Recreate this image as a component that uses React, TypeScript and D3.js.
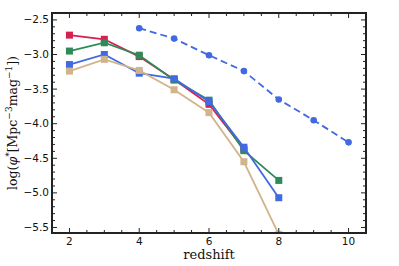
import React from 'react';
import * as d3 from 'd3';

// redshift samples
const zSolid = [2, 3, 4, 5, 6, 7, 8];
const zDashed = [4, 5, 6, 7, 8, 9, 10];

// log(phi*) values
const redVals = [-2.72, -2.78, -3.03, -3.36, -3.72, -4.37];
const greenVals = [-2.95, -2.83, -3.01, -3.37, -3.66, -4.39, -4.82];
const blueVals = [-3.145, -3.0, -3.27, -3.35, -3.68, -4.34, -5.07];
const tanVals = [-3.24, -3.07, -3.23, -3.51, -3.84, -4.55, -5.6];
const dashedVals = [-2.62, -2.77, -3.01, -3.24, -3.65, -3.95, -4.27];

const xTicks = [2, 4, 6, 8, 10];
const yTicks = [-2.5, -3.0, -3.5, -4.0, -4.5, -5.0, -5.5];

const solidSeries = [
  { name: 'red', color: '#d6204e', values: redVals },
  { name: 'green', color: '#2e8b57', values: greenVals },
  { name: 'blue', color: '#4169e1', values: blueVals },
  { name: 'tan', color: '#d2b48c', values: tanVals },
];

const W = 399;
const H = 266;
const margin = { left: 52, right: 33, top: 13, bottom: 33 };

export default function App() {
  const x = d3.scaleLinear().domain([1.5, 10.5]).range([margin.left, W - margin.right]);
  const y = d3.scaleLinear().domain([-5.58, -2.4]).range([H - margin.bottom, margin.top]);

  const line = d3.line<[number, number]>()
    .x(d => x(d[0]))
    .y(d => y(d[1]));

  const x0 = x.range()[0], x1 = x.range()[1];
  const y0 = y.range()[0], y1 = y.range()[1];

  const xMinor = d3.range(1.5, 10.51, 0.5).filter(v => !xTicks.includes(v));
  const yMinor = d3.range(-5.5, -2.39, 0.1)
    .map(v => Math.round(v * 10) / 10)
    .filter(v => !yTicks.some(t => Math.abs(t - v) < 1e-6) && v >= -5.58);

  const fmt = (v: number) => v.toFixed(1).replace('-', '\u2212');
  const ms = 7;

  return (
    <div style={{ position: 'absolute', left: 0, top: 0 }}>
      <svg width={W} height={H} style={{ display: 'block', background: '#fff' }}>
        <defs>
          <clipPath id="plotclip">
            <rect x={x0} y={y1} width={x1 - x0} height={y0 - y1} />
          </clipPath>
        </defs>

        <g clipPath="url(#plotclip)">
          {solidSeries.map(s => (
            <g key={s.name}>
              <path
                d={line(s.values.map((v, i) => [zSolid[i], v] as [number, number])) || ''}
                fill="none"
                stroke={s.color}
                strokeWidth={1.8}
              />
              {s.values.map((v, i) => (
                <rect
                  key={i}
                  x={x(zSolid[i]) - ms / 2}
                  y={y(v) - ms / 2}
                  width={ms}
                  height={ms}
                  fill={s.color}
                />
              ))}
            </g>
          ))}
          <path
            d={line(dashedVals.map((v, i) => [zDashed[i], v] as [number, number])) || ''}
            fill="none"
            stroke="#4169e1"
            strokeWidth={1.8}
            strokeDasharray="7,4"
          />
          {dashedVals.map((v, i) => (
            <circle key={i} cx={x(zDashed[i])} cy={y(v)} r={3.3} fill="#4169e1" />
          ))}
        </g>

        {/* ticks, inward on all sides */}
        <g stroke="#222" strokeWidth={1}>
          {xTicks.map(t => (
            <g key={'xt' + t}>
              <line x1={x(t)} x2={x(t)} y1={y0} y2={y0 - 5} />
              <line x1={x(t)} x2={x(t)} y1={y1} y2={y1 + 5} />
            </g>
          ))}
          {xMinor.map(t => (
            <g key={'xm' + t}>
              <line x1={x(t)} x2={x(t)} y1={y0} y2={y0 - 3} />
              <line x1={x(t)} x2={x(t)} y1={y1} y2={y1 + 3} />
            </g>
          ))}
          {yTicks.map(t => (
            <g key={'yt' + t}>
              <line x1={x0} x2={x0 + 5} y1={y(t)} y2={y(t)} />
              <line x1={x1} x2={x1 - 5} y1={y(t)} y2={y(t)} />
            </g>
          ))}
          {yMinor.map(t => (
            <g key={'ym' + t}>
              <line x1={x0} x2={x0 + 3} y1={y(t)} y2={y(t)} />
              <line x1={x1} x2={x1 - 3} y1={y(t)} y2={y(t)} />
            </g>
          ))}
        </g>

        <rect x={x0} y={y1} width={x1 - x0} height={y0 - y1} fill="none" stroke="#222" strokeWidth={2} />

        {/* tick labels */}
        <g fontFamily="DejaVu Sans, sans-serif" fontSize={10.5} fill="#111">
          {xTicks.map(t => (
            <text key={'xl' + t} x={x(t)} y={y0 + 12} textAnchor="middle">{t}</text>
          ))}
          {yTicks.map(t => (
            <text key={'yl' + t} x={x0 - 3} y={y(t) + 3.5} textAnchor="end">{fmt(t)}</text>
          ))}
        </g>

        <text x={(x0 + x1) / 2} y={259} textAnchor="middle" fontFamily="DejaVu Serif, serif" fontSize={13} fill="#111">
          redshift
        </text>
        <text
          transform={`translate(17, ${(y0 + y1) / 2}) rotate(-90)`}
          textAnchor="middle"
          fontFamily="DejaVu Serif, serif"
          fontSize={12.5}
          fill="#111"
        >
          log(<tspan fontStyle="italic">φ</tspan><tspan dy={-5} fontSize={9}>*</tspan>
          <tspan dy={5}>[Mpc</tspan><tspan dy={-5} fontSize={9}>−3</tspan>
          <tspan dy={5}>mag</tspan><tspan dy={-5} fontSize={9}>−1</tspan>
          <tspan dy={5}>])</tspan>
        </text>
      </svg>
    </div>
  );
}
